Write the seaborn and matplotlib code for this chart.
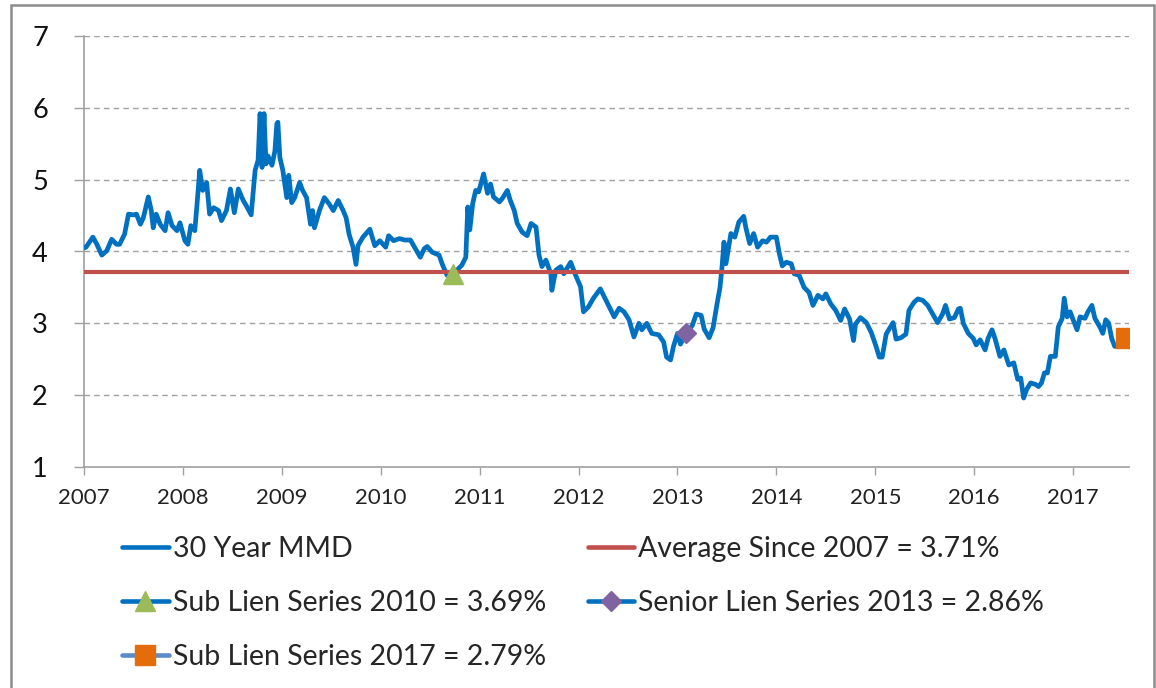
import matplotlib
matplotlib.use("Agg")
import matplotlib.pyplot as plt
from matplotlib.lines import Line2D
from matplotlib.patches import Rectangle
import seaborn as sns
import pandas as pd

sns.set_theme(style="white")
plt.rcParams["font.family"] = ["Lato", "DejaVu Sans"]

# 30 Year MMD yield (%), dates as decimal years
mmd_dates = [
    2007.00, 2007.02, 2007.09, 2007.13, 2007.18, 2007.23, 2007.28, 2007.33, 2007.36, 2007.41,
    2007.45, 2007.50, 2007.53, 2007.57, 2007.60, 2007.65, 2007.68, 2007.70, 2007.73, 2007.77,
    2007.82, 2007.85, 2007.89, 2007.94, 2007.97, 2008.02, 2008.05, 2008.08, 2008.12, 2008.14,
    2008.17, 2008.20, 2008.24, 2008.27, 2008.31, 2008.36, 2008.39, 2008.44, 2008.48, 2008.52,
    2008.56, 2008.61, 2008.64, 2008.69, 2008.73, 2008.76, 2008.78, 2008.80, 2008.82, 2008.84,
    2008.86, 2008.90, 2008.93, 2008.95, 2008.96, 2008.98, 2009.01, 2009.05, 2009.07, 2009.10,
    2009.13, 2009.18, 2009.21, 2009.25, 2009.29, 2009.31, 2009.33, 2009.38, 2009.43, 2009.48,
    2009.52, 2009.57, 2009.62, 2009.65, 2009.68, 2009.72, 2009.75, 2009.77, 2009.82, 2009.89,
    2009.94, 2009.99, 2010.05, 2010.08, 2010.13, 2010.19, 2010.24, 2010.30, 2010.35, 2010.40,
    2010.44, 2010.47, 2010.52, 2010.59, 2010.62, 2010.67, 2010.71, 2010.77, 2010.82, 2010.86,
    2010.88, 2010.90, 2010.93, 2010.96, 2010.99, 2011.04, 2011.08, 2011.11, 2011.14, 2011.20,
    2011.23, 2011.28, 2011.31, 2011.35, 2011.38, 2011.43, 2011.48, 2011.52, 2011.57, 2011.60,
    2011.63, 2011.67, 2011.72, 2011.73, 2011.77, 2011.82, 2011.85, 2011.92, 2011.97, 2012.02,
    2012.05, 2012.10, 2012.15, 2012.22, 2012.26, 2012.31, 2012.36, 2012.41, 2012.46, 2012.51,
    2012.56, 2012.61, 2012.64, 2012.69, 2012.74, 2012.81, 2012.86, 2012.89, 2012.93, 2012.96,
    2013.00, 2013.03, 2013.09, 2013.15, 2013.19, 2013.24, 2013.27, 2013.32, 2013.36, 2013.40,
    2013.43, 2013.45, 2013.47, 2013.49, 2013.52, 2013.54, 2013.58, 2013.62, 2013.67, 2013.69,
    2013.73, 2013.77, 2013.81, 2013.86, 2013.90, 2013.94, 2014.00, 2014.03, 2014.06, 2014.10,
    2014.15, 2014.18, 2014.23, 2014.28, 2014.33, 2014.37, 2014.42, 2014.47, 2014.50, 2014.55,
    2014.60, 2014.65, 2014.69, 2014.74, 2014.78, 2014.80, 2014.85, 2014.91, 2014.96, 2015.01,
    2015.04, 2015.07, 2015.11, 2015.14, 2015.18, 2015.21, 2015.26, 2015.31, 2015.34, 2015.39,
    2015.43, 2015.48, 2015.53, 2015.58, 2015.63, 2015.68, 2015.71, 2015.75, 2015.80, 2015.84,
    2015.86, 2015.89, 2015.94, 2015.99, 2016.02, 2016.06, 2016.11, 2016.14, 2016.18, 2016.21,
    2016.26, 2016.30, 2016.35, 2016.40, 2016.44, 2016.47, 2016.50, 2016.53, 2016.57, 2016.62,
    2016.65, 2016.68, 2016.71, 2016.74, 2016.77, 2016.82, 2016.85, 2016.89, 2016.91, 2016.94,
    2016.97, 2017.00, 2017.04, 2017.07, 2017.12, 2017.15, 2017.19, 2017.22, 2017.27, 2017.30,
    2017.33, 2017.36, 2017.39, 2017.42, 2017.47,
]
mmd_values = [
    4.05, 4.06, 4.20, 4.10, 3.95, 4.01, 4.17, 4.10, 4.10, 4.24,
    4.52, 4.51, 4.52, 4.38, 4.47, 4.76, 4.57, 4.33, 4.52, 4.38,
    4.29, 4.54, 4.36, 4.29, 4.40, 4.15, 4.10, 4.36, 4.29, 4.61,
    5.13, 4.85, 4.96, 4.52, 4.61, 4.57, 4.43, 4.57, 4.87, 4.54,
    4.87, 4.71, 4.64, 4.51, 5.13, 5.27, 5.92, 5.17, 5.92, 5.22,
    5.33, 5.20, 5.40, 5.78, 5.80, 5.31, 5.13, 4.75, 5.06, 4.68,
    4.75, 4.96, 4.85, 4.75, 4.38, 4.57, 4.33, 4.57, 4.75, 4.66,
    4.57, 4.71, 4.57, 4.47, 4.24, 4.06, 3.82, 4.08, 4.20, 4.31,
    4.08, 4.15, 4.06, 4.22, 4.15, 4.18, 4.16, 4.16, 4.04, 3.92,
    4.04, 4.07, 3.99, 3.95, 3.83, 3.67, 3.71, 3.74, 3.81, 3.92,
    4.62, 4.30, 4.67, 4.85, 4.83, 5.08, 4.81, 4.94, 4.76, 4.69,
    4.74, 4.85, 4.71, 4.57, 4.39, 4.27, 4.22, 4.39, 4.34, 3.95,
    3.79, 3.88, 3.69, 3.46, 3.74, 3.79, 3.69, 3.85, 3.67, 3.51,
    3.16, 3.23, 3.35, 3.48, 3.37, 3.23, 3.09, 3.21, 3.16, 3.05,
    2.81, 3.00, 2.91, 3.00, 2.86, 2.84, 2.74, 2.53, 2.49, 2.68,
    2.86, 2.71, 2.87, 2.97, 3.13, 3.11, 2.92, 2.80, 2.94, 3.27,
    3.50, 3.78, 4.13, 3.83, 4.08, 4.25, 4.20, 4.41, 4.49, 4.34,
    4.11, 4.25, 4.06, 4.15, 4.13, 4.20, 4.20, 3.97, 3.80, 3.85,
    3.83, 3.69, 3.67, 3.50, 3.43, 3.25, 3.39, 3.34, 3.41, 3.27,
    3.18, 3.04, 3.20, 3.06, 2.76, 2.99, 3.08, 3.01, 2.87, 2.67,
    2.53, 2.53, 2.85, 2.92, 3.01, 2.78, 2.80, 2.85, 3.18, 3.29,
    3.34, 3.32, 3.25, 3.13, 3.01, 3.13, 3.25, 3.06, 3.08, 3.20,
    3.21, 3.00, 2.86, 2.79, 2.70, 2.77, 2.63, 2.79, 2.91, 2.79,
    2.54, 2.63, 2.42, 2.45, 2.22, 2.24, 1.96, 2.08, 2.17, 2.15,
    2.12, 2.17, 2.31, 2.31, 2.54, 2.54, 2.95, 3.07, 3.35, 3.09,
    3.16, 3.05, 2.91, 3.09, 3.07, 3.16, 3.25, 3.07, 2.95, 2.86,
    3.05, 3.00, 2.79, 2.68, 2.68,
]

average_value = 3.71

# Bond pricing points
issue_labels = ["Sub Lien Series 2010", "Senior Lien Series 2013", "Sub Lien Series 2017"]
issue_dates = [2010.73, 2013.09, 2017.53]
issue_values = [3.69, 2.86, 2.79]

year_ticks = list(range(2007, 2018))
value_ticks = [1, 2, 3, 4, 5, 6, 7]

BLUE = "#0070C0"
RED = "#C0504D"
GREEN = "#9BBB59"
PURPLE = "#8064A2"
ORANGE = "#E46C0A"
LIGHT_BLUE = "#5B8CC9"
GRAY = "#A0A0A0"

df = pd.DataFrame({"date": mmd_dates, "mmd": mmd_values})

W, H = 1156, 688
fig = plt.figure(figsize=(W / 100, H / 100), dpi=100)
ax = fig.add_axes([84 / W, 1 - 467 / H, (1129 - 84) / W, (467 - 36) / H])

sns.lineplot(data=df, x="date", y="mmd", ax=ax, color=BLUE, linewidth=3.4,
             zorder=3, legend=False)
ax.axhline(average_value, color=RED, linewidth=3.0, zorder=4)

marker_styles = [
    dict(marker="^", ms=14, mfc=GREEN, mec=GREEN, color=BLUE),
    dict(marker="D", ms=10, mfc=PURPLE, mec=PURPLE, color=BLUE),
    dict(marker="s", ms=14, mfc=ORANGE, mec=ORANGE, color=LIGHT_BLUE),
]
for d, v, st in zip(issue_dates, issue_values, marker_styles):
    ax.plot([d], [v], linestyle="none", zorder=5, **st)

ax.set_xlim(2007, 2017.565)
ax.set_ylim(1, 7)
ax.set_xticks(year_ticks)
ax.set_xticklabels([str(y) for y in year_ticks])
ax.set_yticks(value_ticks)
ax.set_xlabel("")
ax.set_ylabel("")

for y in value_ticks[1:]:
    ax.axhline(y, color=GRAY, linewidth=1.0, linestyle=(0, (4, 3)), zorder=1)

for side in ["top", "right"]:
    ax.spines[side].set_visible(False)
for side in ["left", "bottom"]:
    ax.spines[side].set_color(GRAY)
    ax.spines[side].set_linewidth(1.2)

ax.tick_params(axis="x", direction="out", length=6, width=1.0, color=GRAY,
               labelsize=16, pad=9, labelcolor="#222222")
ax.tick_params(axis="y", direction="out", length=7, width=1.0, color=GRAY,
               labelsize=19.5, pad=19, labelcolor="#111111")
ax.tick_params(bottom=True, left=True)

handles = [
    Line2D([], [], color=BLUE, linewidth=3.3),
    Line2D([], [], color=BLUE, linewidth=3.3, **{k: v for k, v in marker_styles[0].items() if k != "color"}),
    Line2D([], [], color=LIGHT_BLUE, linewidth=3.3, **{k: v for k, v in marker_styles[2].items() if k != "color"}),
    Line2D([], [], color=RED, linewidth=3.3),
    Line2D([], [], color=BLUE, linewidth=3.3, **{k: v for k, v in marker_styles[1].items() if k != "color"}),
]
labels = [
    "30 Year MMD",
    f"{issue_labels[0]} = {issue_values[0]:.2f}%",
    f"{issue_labels[2]} = {issue_values[2]:.2f}%",
    f"Average Since 2007 = {average_value:.2f}%",
    f"{issue_labels[1]} = {issue_values[1]:.2f}%",
]
fig.legend(handles, labels, loc="upper left", bbox_to_anchor=(122 / W, 1 - 536 / H),
           ncol=2, frameon=False, fontsize=20.5, handlelength=1.65, handletextpad=0.14,
           columnspacing=1.45, labelspacing=0.99, borderpad=0, borderaxespad=0)

# Outer chart border
fig.patches.append(Rectangle((10.5 / W, -0.02), (1153.5 - 10.5) / W, 1 - 4.5 / H + 0.02,
                             transform=fig.transFigure, fill=False,
                             edgecolor="#8C8C8C", linewidth=1.8))

fig.savefig("out.png", dpi=100)
